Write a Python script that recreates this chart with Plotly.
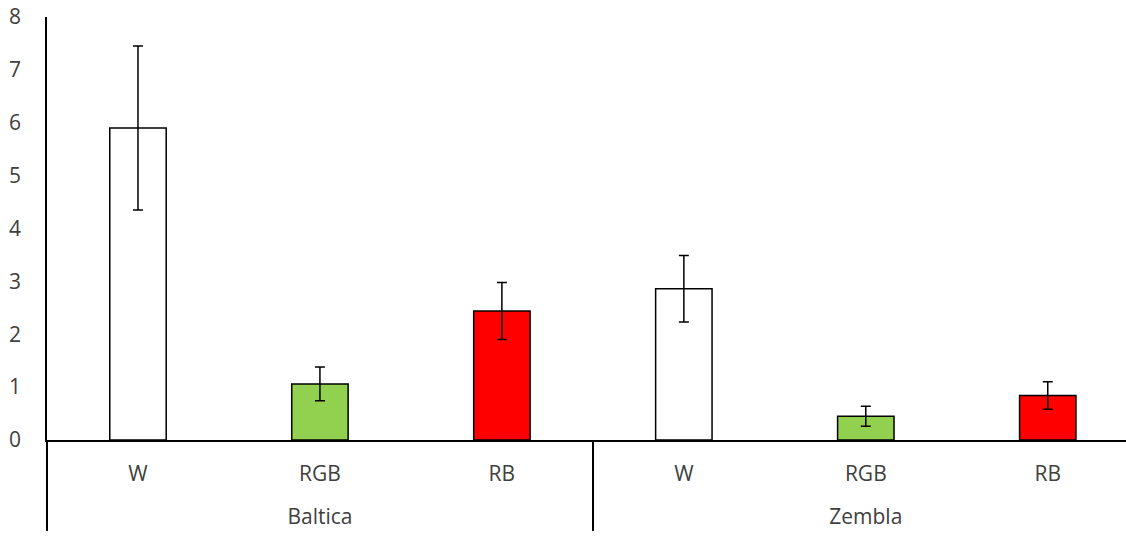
import plotly.graph_objects as go

groups = ["Baltica", "Baltica", "Baltica", "Zembla", "Zembla", "Zembla"]
lights = ["W", "RGB", "RB", "W", "RGB", "RB"]
values = [5.9, 1.06, 2.44, 2.86, 0.45, 0.84]
errors = [1.55, 0.32, 0.54, 0.63, 0.19, 0.26]
colors = ["#FFFFFF", "#92D050", "#FF0000", "#FFFFFF", "#92D050", "#FF0000"]
y_ticks = [0, 1, 2, 3, 4, 5, 6, 7, 8]

# an empty first line pushes the group row further below the light row
group_labels = ["<br>" + g for g in groups]

fig = go.Figure(
    go.Bar(
        x=[group_labels, lights],
        y=values,
        marker=dict(color=colors, line=dict(color="#000000", width=1.5)),
        error_y=dict(type="data", array=errors, visible=True,
                     color="#000000", thickness=1.5, width=5),
        width=0.31,
    )
)

fig.update_layout(
    width=1126, height=536,
    margin=dict(l=47, r=0, t=17, b=96),
    paper_bgcolor="white", plot_bgcolor="white",
    font=dict(family="Open Sans", size=21, color="#404040"),
    showlegend=False,
    xaxis=dict(
        type="multicategory",
        range=[-0.5, 5.43],
        automargin=False,
        showline=True, linecolor="#000000", linewidth=1.5,
        showdividers=True, dividercolor="#000000", dividerwidth=1.5,
        ticks="", showgrid=False,
        ticklabelstandoff=14,
        ticklabeloverflow="allow",
    ),
    yaxis=dict(
        range=[0, 8],
        tickvals=y_ticks,
        automargin=False,
        showline=True, linecolor="#000000", linewidth=1.5,
        ticks="", showgrid=False, zeroline=False,
        ticklabelstandoff=20,
        ticklabeloverflow="allow",
    ),
)

fig.write_html(
    "out.html",
    config={"displayModeBar": False},
    post_script="document.body.style.margin='0';document.body.style.overflow='hidden';",
)
